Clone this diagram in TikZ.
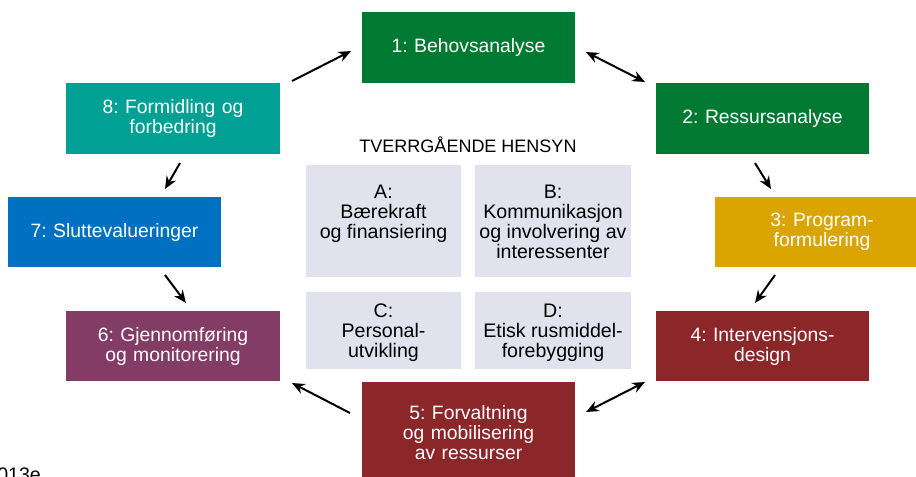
\documentclass[tikz,border=0pt]{standalone}
\usepackage{fontspec}
\setmainfont{Liberation Sans}
\usetikzlibrary{arrows.meta}
\usetikzlibrary{positioning}
\frenchspacing

\definecolor{stepgreen}{RGB}{0,122,51}
\definecolor{stepyellow}{RGB}{218,165,0}
\definecolor{stepred}{RGB}{139,38,41}
\definecolor{steppurple}{RGB}{131,60,101}
\definecolor{stepblue}{RGB}{0,112,192}
\definecolor{stepteal}{RGB}{0,160,148}
\definecolor{hensyngrey}{RGB}{226,226,238}

\tikzset{
  stepbox/.style={rectangle, inner sep=0pt, minimum width=160pt, minimum height=53pt,
    text width=150pt, align=center, text=white, font=\fontsize{14.5}{15}\selectfont},
  hensynbox/.style={rectangle, inner sep=0pt, fill=hensyngrey, minimum width=116.5pt},
  hensyntext/.style={inner sep=0pt, align=center, font=\fontsize{14.7}{15}\selectfont},
  flowarrow/.style={-{Stealth[length=9.5pt,width=8pt]}, line width=1.5pt},
  bothways/.style={{Stealth[length=9.5pt,width=8pt]}-{Stealth[length=9.5pt,width=8pt]}, line width=1.5pt}
}

\begin{document}
\begin{tikzpicture}[x=0.75pt,y=0.75pt,yscale=-1,xscale=1]
\useasboundingbox (0,0) rectangle (916,476);

%Shape: Rectangle [steps]
\node[stepbox, fill=stepgreen] (n1) at (468.5,47.5) {1: Behovsanalyse};
\node[stepbox, fill=stepgreen] (n2) at (762.5,118.5) {2: Ressursanalyse};
\node[stepbox, fill=stepyellow] (n3) at (822,232) {3: Program-\\formulering};
\node[stepbox, fill=stepred] (n4) at (762.5,346) {4: Intervensjons-\\design};
\node[stepbox, fill=stepred, minimum height=76pt] (n5) at (468.5,432.5) {5: Forvaltning\\og mobilisering\\av ressurser};
\node[stepbox, fill=steppurple] (n6) at (173,346) {6: Gjennomføring\\og monitorering};
\node[stepbox, fill=stepblue] (n7) at (114.5,232) {7: Sluttevalueringer};
\node[stepbox, fill=stepteal] (n8) at (173,118.5) {8: Formidling og\\forbedring};

% Text Node
\node[hensyntext, font=\fontsize{13.5}{15}\selectfont] (title) at (468,145) {TVERRGÅENDE HENSYN};

%Shape: Rectangle [hensyn]
\node[hensynbox, minimum height=84pt] (hA) at (383.5,221) {};
\node[hensynbox, minimum height=84pt] (hB) at (553,221) {};
\node[hensynbox, minimum height=58pt] (hC) at (383.5,330.5) {};
\node[hensynbox, minimum height=58pt] (hD) at (553,330.5) {};

% Text Node
\node[hensyntext, below=15pt of hA.north] (tA) {A:\\Bærekraft\\og finansiering};
\node[hensyntext, below=15pt of hB.north] (tB) {B:\\Kommunikasjon\\og involvering av\\interessenter};
\node[hensyntext, below=9pt of hC.north] (tC) {C:\\Personal-\\utvikling};
\node[hensyntext, below=9pt of hD.north] (tD) {D:\\Etisk rusmiddel-\\forebygging};

% Text Node
\node[hensyntext, anchor=base west] (note) at (-3,481) {013e};

%Straight Lines [arrow ends]
\coordinate (a81) at (292,81);   \coordinate (a18) at (351,51);
\coordinate (a12) at (586,52);   \coordinate (a21) at (645,82);
\coordinate (a23) at (755,163);  \coordinate (a32) at (771,189);
\coordinate (a34) at (775,275);  \coordinate (a43) at (755,303);
\coordinate (a45) at (645,382);  \coordinate (a54) at (586,412);
\coordinate (a56) at (350,413);  \coordinate (a65) at (292,383);
\coordinate (a76) at (165,275);  \coordinate (a67) at (186,303);
\coordinate (a87) at (180,163);  \coordinate (a78) at (165,189);

\draw[flowarrow] (a81) -- (a18);
\draw[bothways] (a12) -- (a21);
\draw[flowarrow] (a23) -- (a32);
\draw[flowarrow] (a34) -- (a43);
\draw[bothways] (a45) -- (a54);
\draw[flowarrow] (a56) -- (a65);
\draw[flowarrow] (a76) -- (a67);
\draw[flowarrow] (a87) -- (a78);

\end{tikzpicture}
\end{document}
